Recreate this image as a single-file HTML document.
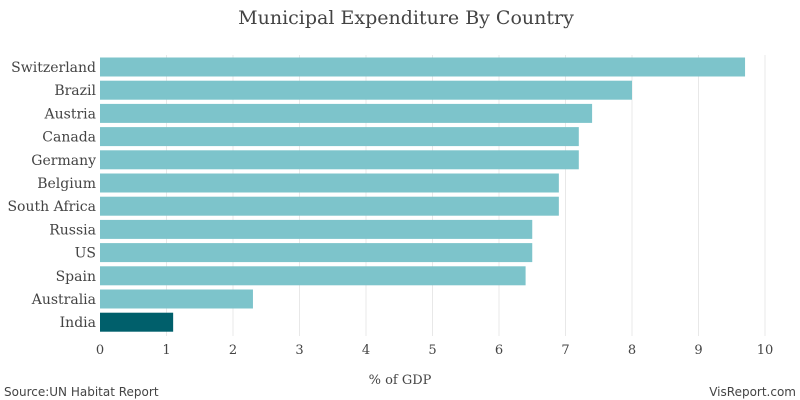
<!DOCTYPE html>
<html><head><meta charset="utf-8"><style>
body{margin:0;background:#fff;}
svg{display:block;}
.t{font-family:"DejaVu Serif","Liberation Serif",serif;fill:#444;}
.s{font-family:"DejaVu Sans","Liberation Sans",sans-serif;fill:#444;}
</style></head><body>
<svg id="c" width="800" height="400">
<text class="t" x="406" y="24" text-anchor="middle" font-size="19">Municipal Expenditure By Country</text>
<g id="grid"></g><g id="bars"></g><g id="ylab"></g><g id="xlab"></g>
<text class="t" x="400" y="384" text-anchor="middle" font-size="13">% of GDP</text>
<text class="s" x="4" y="396" font-size="12">Source:UN Habitat Report</text>
<text class="s" x="796" y="396" text-anchor="end" font-size="12">VisReport.com</text>
</svg>
<script>
const categories=["Switzerland","Brazil","Austria","Canada","Germany","Belgium","South Africa","Russia","US","Spain","Australia","India"];
const values=[9.7,8.0,7.4,7.2,7.2,6.9,6.9,6.5,6.5,6.4,2.3,1.1];
const highlight=["India"];
const ticks=[0,1,2,3,4,5,6,7,8,9,10];
const ns="http://www.w3.org/2000/svg";
const x=v=>100+v*66.5;
const y=i=>67+i*23.2;
function mk(t,a,p){const e=document.createElementNS(ns,t);for(const k in a)e.setAttribute(k,a[k]);document.getElementById(p).appendChild(e);return e;}
ticks.forEach(t=>{
 if(t>0){const g=mk("line",{x1:x(t),x2:x(t),y1:55,y2:336,stroke:"#e8e8e8","stroke-width":1},"grid");
 
 }
 const l=mk("text",{x:x(t),y:354,"text-anchor":"middle","font-size":13,class:"t"},"xlab");l.textContent=t;
 
 
});
categories.forEach((c,i)=>{
 const r=mk("rect",{x:x(0),y:y(i)-9.5,width:x(values[i])-x(0),height:19,fill:highlight.includes(c)?"#005f6b":"#7dc4cb"},"bars");
 
 
 const l=mk("text",{x:96,y:y(i)+5,"text-anchor":"end","font-size":14,class:"t"},"ylab");l.textContent=c;
 
 
});
</script>
</body></html>
